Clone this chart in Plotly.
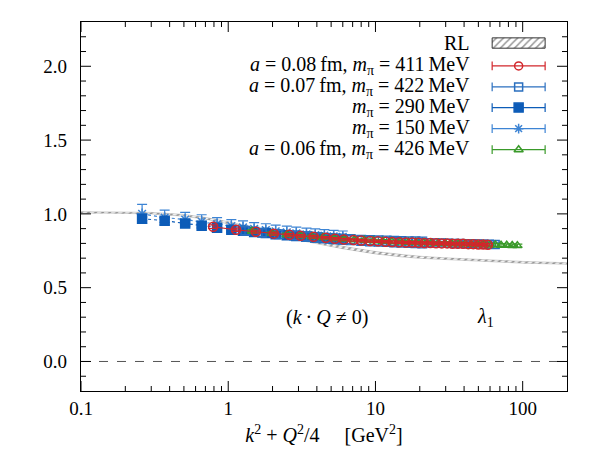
import math
import plotly.graph_objects as go

# ---------------- data ----------------
rl_x = [0.1, 0.15, 0.2, 0.3, 0.5, 0.7, 1.0, 1.5, 2.0, 3.0, 4.0, 6.0, 10.0, 15.0, 20.0, 30.0, 50.0, 100.0, 200.0]
rl_y = [1.01, 1.01, 1.01, 1.005, 0.99, 0.97, 0.94, 0.90, 0.87, 0.83, 0.805, 0.772, 0.737, 0.717, 0.706, 0.695, 0.685, 0.672, 0.664]
rl_w = [0.005, 0.005, 0.005, 0.005, 0.006, 0.006, 0.007, 0.007, 0.008, 0.008, 0.008, 0.008, 0.008, 0.008, 0.007, 0.007, 0.006, 0.006, 0.005]

m411_x = [0.79, 1.13, 1.54, 2.04, 2.6, 3.1, 3.8, 4.6, 5.3, 6.1, 7.1, 8.0, 9.2, 10.4, 11.7, 13.0, 14.5, 16.1,
          17.8, 19.6, 21.5, 23.6, 25.8, 28.2, 30.7, 33.4, 36.3, 39.4, 42.7, 46.2, 50.0, 54.0, 58.0]
m411_y = [0.913, 0.892, 0.879, 0.866, 0.858, 0.851, 0.845, 0.838, 0.832, 0.826, 0.823, 0.819, 0.816, 0.814, 0.811,
          0.810, 0.808, 0.806, 0.806, 0.804, 0.803, 0.803, 0.801, 0.800, 0.800, 0.798, 0.797, 0.797, 0.795, 0.795,
          0.793, 0.792, 0.791]
m411_e = [0.012, 0.011, 0.010, 0.010, 0.009, 0.009, 0.009, 0.008, 0.008, 0.008, 0.008, 0.008, 0.008, 0.008, 0.008,
          0.008, 0.008, 0.008, 0.008, 0.008, 0.008, 0.008, 0.008, 0.008, 0.008, 0.008, 0.008, 0.008, 0.008, 0.008,
          0.008, 0.008, 0.008]

m422_x = [1.3, 1.7, 2.2, 2.8, 3.4, 4.1, 4.9, 5.8, 6.8, 8.0, 9.2, 10.5, 11.9, 13.4, 15.0, 16.8, 18.7, 20.8,
          23.0, 25.5, 28.1, 31.0, 34.2, 37.6, 41.3, 45.3, 49.6, 54.3, 59.3, 65.0]
m422_y = [0.885, 0.872, 0.862, 0.853, 0.846, 0.840, 0.835, 0.830, 0.825, 0.821, 0.818, 0.816, 0.814, 0.812, 0.810,
          0.809, 0.808, 0.806, 0.805, 0.803, 0.802, 0.801, 0.800, 0.799, 0.798, 0.797, 0.796, 0.795, 0.794, 0.793]
m422_e = [0.03, 0.03, 0.03, 0.03, 0.032, 0.032, 0.032, 0.033, 0.034, 0.034, 0.035, 0.035, 0.035, 0.036, 0.036,
          0.036, 0.036, 0.036, 0.012, 0.012, 0.012, 0.012, 0.011, 0.011, 0.011, 0.011, 0.011, 0.011, 0.011, 0.011]

m290_x = [0.26, 0.37, 0.51, 0.66, 0.84, 1.05, 1.26, 1.5, 1.8, 2.1, 2.5, 2.9, 3.4, 3.9, 4.5, 5.2, 6.0]
m290_y = [0.967, 0.954, 0.935, 0.920, 0.906, 0.893, 0.885, 0.877, 0.870, 0.862, 0.856, 0.850, 0.845, 0.840, 0.835,
          0.830, 0.826]
m290_e = [0.012, 0.011, 0.011, 0.010, 0.010, 0.010, 0.010, 0.010, 0.010, 0.010, 0.010, 0.010, 0.010, 0.010, 0.010,
          0.010, 0.010]

m150_x = [0.26, 0.37, 0.51, 0.66, 0.84, 1.05, 1.26, 1.5, 1.8, 2.1, 2.5, 2.9, 3.4, 3.9, 4.5, 5.2, 6.0]
m150_y = [1.00, 0.975, 0.962, 0.948, 0.930, 0.917, 0.908, 0.898, 0.890, 0.882, 0.875, 0.868, 0.862, 0.857, 0.852,
          0.848, 0.844]
m150_e = [0.065, 0.05, 0.048, 0.046, 0.045, 0.044, 0.044, 0.043, 0.043, 0.042, 0.042, 0.042, 0.041, 0.041, 0.041,
          0.040, 0.040]

m426_x = [1.45, 1.98, 2.5, 3.1, 3.7, 4.4, 5.2, 6.1, 7.2, 8.4, 9.7, 11.2, 12.9, 14.7, 16.7, 18.9, 21.3, 23.9,
          26.7, 29.8, 33.1, 36.7, 40.6, 44.8, 49.3, 54.2, 59.5, 65.2, 71.3, 77.9, 84.9, 92.0]
m426_y = [0.882, 0.868, 0.859, 0.852, 0.846, 0.840, 0.834, 0.829, 0.825, 0.821, 0.818, 0.815, 0.812, 0.810, 0.808,
          0.806, 0.805, 0.803, 0.801, 0.800, 0.798, 0.797, 0.796, 0.794, 0.793, 0.792, 0.790, 0.789, 0.788, 0.787,
          0.786, 0.785]
m426_e = [0.01] * 32

legend_labels = ["RL",
                 "<i>a</i>&nbsp;=&nbsp;0.08&#8201;fm, <i>m</i><sub>π</sub>&nbsp;=&nbsp;411&#8201;MeV",
                 "<i>a</i>&nbsp;=&nbsp;0.07&#8201;fm, <i>m</i><sub>π</sub>&nbsp;=&nbsp;422&#8201;MeV",
                 "<i>m</i><sub>π</sub>&nbsp;=&nbsp;290&#8201;MeV",
                 "<i>m</i><sub>π</sub>&nbsp;=&nbsp;150&#8201;MeV",
                 "<i>a</i>&nbsp;=&nbsp;0.06&#8201;fm, <i>m</i><sub>π</sub>&nbsp;=&nbsp;426&#8201;MeV"]

x_major = [0.1, 1, 10, 100]
x_major_text = ["0.1", "1", "10", "100"]
x_minor = [0.2, 0.3, 0.4, 0.5, 0.6, 0.7, 0.8, 0.9, 2, 3, 4, 5, 6, 7, 8, 9,
           20, 30, 40, 50, 60, 70, 80, 90]
y_major = [0.0, 0.5, 1.0, 1.5, 2.0]
y_major_text = ["0.0", "0.5", "1.0", "1.5", "2.0"]
y_minor = [-0.1, 0.1, 0.2, 0.3, 0.4, 0.6, 0.7, 0.8, 0.9, 1.1, 1.2, 1.3, 1.4, 1.6, 1.7, 1.8, 1.9, 2.1, 2.2]

X_RANGE = [-1, math.log10(200)]
Y_RANGE = [-0.2, 2.3]
PLOT_W, PLOT_H = 486, 369  # plot area in px

# ---------------- styles ----------------
RED = "#d2262b"
BLUE1 = "#2a6fbf"
BLUE2 = "#0d5cb8"
BLUE3 = "#3d84d4"
GREEN = "#3a9a2a"
FONT = "Liberation Serif"

fig = go.Figure()

# RL hatched band
band_x = rl_x + rl_x[::-1]
band_y = [y + w for y, w in zip(rl_y, rl_w)] + [y - w for y, w in zip(rl_y[::-1], rl_w[::-1])]
fig.add_trace(go.Scatter(x=band_x, y=band_y, fill="toself", mode="lines",
                         line=dict(color="rgba(120,120,120,0.6)", width=0.6),
                         fillcolor="white",
                         fillpattern=dict(shape="/", fgcolor="#333", bgcolor="white", size=5, solidity=0.4),
                         hoverinfo="skip", showlegend=False))

def series(x, y, e, color, symbol, size, dash="dot", lw=1.2):
    fig.add_trace(go.Scatter(
        x=x, y=y, mode="lines+markers",
        line=dict(color=color, width=lw, dash=dash),
        marker=dict(symbol=symbol, size=size, color=color, line=dict(color=color, width=1.5)),
        error_y=dict(type="data", array=e, visible=True, color=color, thickness=1.2, width=5),
        showlegend=False))

series(m150_x, m150_y, m150_e, BLUE3, "asterisk-open", 9)
series(m290_x, m290_y, m290_e, BLUE2, "square", 9)
series(m422_x, m422_y, m422_e, BLUE1, "square-open", 8)
series(m426_x, m426_y, m426_e, GREEN, "triangle-up-open", 8)
series(m411_x, m411_y, m411_e, RED, "circle-open", 9, dash="solid", lw=1.2)

# zero line
fig.add_shape(type="line", xref="x domain", yref="y", x0=0, x1=1, y0=0, y1=0,
              line=dict(color="#555", width=1, dash="dash"))

# ---------------- tick marks on all four sides (axis-domain shapes at tick values) ----------------
def xfrac(v):
    return (math.log10(v) - X_RANGE[0]) / (X_RANGE[1] - X_RANGE[0])

def yfrac(v):
    return (v - Y_RANGE[0]) / (Y_RANGE[1] - Y_RANGE[0])

tick_line = dict(color="black", width=1)
for vals, ln in ((x_major, 10), (x_minor, 5)):
    h = ln / PLOT_H
    for v in vals:
        f = xfrac(v)
        fig.add_shape(type="line", xref="x domain", yref="y domain", x0=f, x1=f, y0=0, y1=h, line=tick_line)
        fig.add_shape(type="line", xref="x domain", yref="y domain", x0=f, x1=f, y0=1, y1=1 - h, line=tick_line)
for vals, ln in ((y_major, 10), (y_minor, 5)):
    w = ln / PLOT_W
    for v in vals:
        f = yfrac(v)
        fig.add_shape(type="line", xref="x domain", yref="y domain", x0=0, x1=w, y0=f, y1=f, line=tick_line)
        fig.add_shape(type="line", xref="x domain", yref="y domain", x0=1, x1=1 - w, y0=f, y1=f, line=tick_line)

# ---------------- custom legend (right-aligned text, sample on right) ----------------
row_y = [0.943, 0.881, 0.824, 0.768, 0.711, 0.654]
sx0, sx1, sxm = 0.846, 0.955, 0.9005
leg_colors = [None, RED, BLUE1, BLUE2, BLUE3, GREEN]
leg_symbols = [None, "circle-open", "square-open", "square", "asterisk-open", "triangle-up-open"]

def fx(f):  # axis-domain fraction -> data x (log axis)
    return 10 ** (X_RANGE[0] + f * (X_RANGE[1] - X_RANGE[0]))

def fy(f):
    return Y_RANGE[0] + f * (Y_RANGE[1] - Y_RANGE[0])

for i, lab in enumerate(legend_labels):
    fig.add_annotation(xref="x domain", yref="y domain", x=0.804, y=row_y[i], text=lab,
                       showarrow=False, xanchor="right", yanchor="middle",
                       font=dict(family=FONT, size=20, color="black"))

bx0, bx1 = fx(sx0), fx(sx1)
by0, by1 = fy(row_y[0] - 0.014), fy(row_y[0] + 0.014)
fig.add_trace(go.Scatter(x=[bx0, bx1, bx1, bx0, bx0], y=[by0, by0, by1, by1, by0],
                         fill="toself", mode="lines", line=dict(color="#333", width=1),
                         fillpattern=dict(shape="/", fgcolor="#333", bgcolor="white", size=5, solidity=0.3),
                         hoverinfo="skip", showlegend=False))
for i in range(1, 6):
    c = leg_colors[i]
    yy = row_y[i]
    fig.add_shape(type="line", xref="x domain", yref="y domain", x0=sx0, x1=sx1, y0=yy, y1=yy,
                  line=dict(color=c, width=1.2))
    for xe in (sx0, sx1):
        fig.add_shape(type="line", xref="x domain", yref="y domain", x0=xe, x1=xe, y0=yy - 0.012, y1=yy + 0.012,
                      line=dict(color=c, width=1.2))
    fig.add_trace(go.Scatter(x=[fx(sxm)], y=[fy(yy)], mode="markers",
                             marker=dict(symbol=leg_symbols[i], size=8 if i != 3 else 9, color=c,
                                         line=dict(color=c, width=1.5)),
                             hoverinfo="skip", showlegend=False))

# text annotations
fig.add_annotation(xref="x domain", yref="y", x=0.506, y=0.3,
                   text="(<i>k</i>&#8201;·&#8201;<i>Q</i>&nbsp;≠&nbsp;0)", showarrow=False,
                   font=dict(family=FONT, size=20, color="black"), xanchor="center", yanchor="middle")
fig.add_annotation(xref="x", yref="y", x=1.75, y=0.3, text="<i>λ</i><sub>1</sub>", showarrow=False,
                   font=dict(family=FONT, size=20, color="black"), xanchor="center", yanchor="middle")

axis_common = dict(showgrid=False, zeroline=False, showline=True, linecolor="black", linewidth=1.2,
                   mirror=True, ticks="", tickfont=dict(family=FONT, size=19, color="black"))

fig.update_layout(
    width=600, height=455,
    margin=dict(l=81, r=33, t=22, b=64),
    paper_bgcolor="white", plot_bgcolor="white",
    xaxis=dict(type="log", range=X_RANGE, tickmode="array", tickvals=x_major, ticktext=x_major_text,
               title=dict(text="<i>k</i><sup>2</sup> + <i>Q</i><sup>2</sup>/4&nbsp;&nbsp;&nbsp;&nbsp;&nbsp;[GeV<sup>2</sup>]",
                          font=dict(family=FONT, size=20, color="black"), standoff=10),
               **axis_common),
    yaxis=dict(range=Y_RANGE, tickmode="array", tickvals=y_major, ticktext=y_major_text,
               ticklabelstandoff=9,
               **axis_common),
    showlegend=False,
)

fig.write_html("out.html")
